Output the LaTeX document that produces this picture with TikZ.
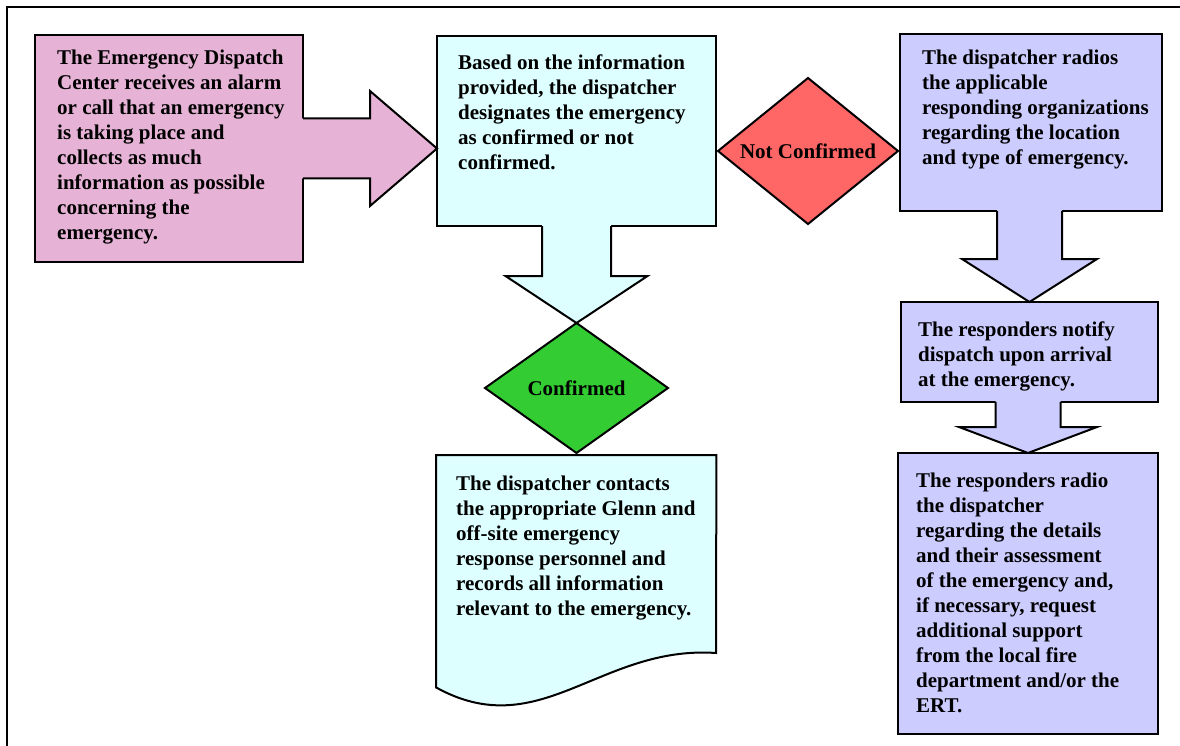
\documentclass[tikz,border=0pt]{standalone}
\usepackage{fontspec}
\setmainfont{Liberation Serif}
\usetikzlibrary{shapes.geometric,calc}

\definecolor{pinkfill}{RGB}{230,179,214}
\definecolor{cyanfill}{RGB}{221,255,255}
\definecolor{bluefill}{RGB}{204,204,255}
\definecolor{redfill}{RGB}{255,102,102}
\definecolor{greenfill}{RGB}{51,204,51}

\tikzset{
	outline/.style={line width=2pt, line join=miter},
	stepbox/.style={draw, outline, rectangle, anchor=north west, inner sep=0, outer sep=0},
	txt/.style={anchor=north west, inner sep=0, align=left, font=\fontsize{21}{25}\selectfont\bfseries},
	decision/.style={draw, outline, diamond, inner sep=0, outer sep=0, font=\fontsize{21}{25}\selectfont\bfseries}
}

% block arrow going down: #1 fill, #2 base anchor, #3 tip, #4 shaft half width, #5 head half width, #6 head length
\newcommand{\blockdown}[6]{
	\fill[#1] ($(#3|-#2)+(-#4,-3)$) -- ($(#3)+(-#4,-#6)$) -- ($(#3)+(-#5,-#6)$) -- (#3)
		-- ($(#3)+(#5,-#6)$) -- ($(#3)+(#4,-#6)$) -- ($(#3|-#2)+(#4,-3)$) -- cycle;
	\draw[outline] ($(#3|-#2)+(-#4,0)$) -- ($(#3)+(-#4,-#6)$) -- ($(#3)+(-#5,-#6)$) -- (#3)
		-- ($(#3)+(#5,-#6)$) -- ($(#3)+(#4,-#6)$) -- ($(#3|-#2)+(#4,0)$);
}

\begin{document}
\begin{tikzpicture}[x=1pt, y=-1pt]
	\useasboundingbox (0,0) rectangle (1180,746);
	\draw[line width=2pt] (7,746) -- (7,7) -- (1180,7);

	% boxes
	\node[stepbox, fill=pinkfill, minimum width=268, minimum height=227] (alarm) at (35,35) {};
	\node[stepbox, fill=cyanfill, minimum width=279, minimum height=190] (designate) at (437,36) {};
	\node[stepbox, fill=bluefill, minimum width=262, minimum height=177] (radios) at (900,34) {};
	\node[stepbox, fill=bluefill, minimum width=257, minimum height=100] (notify) at (901,302) {};
	\node[stepbox, fill=bluefill, minimum width=260, minimum height=281] (support) at (898,453) {};
	\node[anchor=north west, inner sep=0, minimum width=280, minimum height=232] (contact) at (436,455) {};
	\filldraw[outline, fill=cyanfill] (contact.north west) -- (contact.north east) -- ($(contact.north west)+(280,198)$)
		.. controls ($(contact.north west)+(164,190)$) and ($(contact.north west)+(104,290)$) .. (contact.south west) -- cycle;

	% decisions
	\node[decision, fill=redfill, aspect=1.23, minimum width=180, minimum height=146] (notconf) at (808,151) {Not Confirmed};
	\node[decision, fill=greenfill, aspect=1.41, minimum width=183, minimum height=130] (conf) at (576.5,388) {Confirmed};

	% block arrows
	\coordinate (alarm-tip) at (alarm.east -| designate.west);
	\fill[pinkfill] ($(alarm.east)+(-3,-30)$) -- ($(alarm-tip)+(-67,-30)$) -- ($(alarm-tip)+(-67,-57.5)$) -- (alarm-tip)
		-- ($(alarm-tip)+(-67,57.5)$) -- ($(alarm-tip)+(-67,30)$) -- ($(alarm.east)+(-3,30)$) -- cycle;
	\draw[outline] ($(alarm.east)+(0,-30)$) -- ($(alarm-tip)+(-67,-30)$) -- ($(alarm-tip)+(-67,-57.5)$) -- (alarm-tip)
		-- ($(alarm-tip)+(-67,57.5)$) -- ($(alarm-tip)+(-67,30)$) -- ($(alarm.east)+(0,30)$);
	\blockdown{cyanfill}{designate.south}{conf.north}{34.5}{71}{47}
	\blockdown{bluefill}{radios.south}{notify.north}{32.5}{67.5}{43}
	\blockdown{bluefill}{notify.south}{support.north}{32.5}{69}{26}

	% texts
	\node[txt] (alarm-t) at ([shift={(22,15)}]alarm.north west) {The Emergency Dispatch\\Center receives an alarm\\or call that an emergency\\is taking place and\\collects as much\\information as possible\\concerning the\\emergency.};
	\node[txt] (designate-t) at ([shift={(21,19)}]designate.north west) {Based on the information\\provided, the dispatcher\\designates the emergency\\as confirmed or not\\confirmed.};
	\node[txt] (radios-t) at ([shift={(22,16)}]radios.north west) {The dispatcher radios\\the applicable\\responding organizations\\regarding the location\\and type of emergency.};
	\node[txt] (notify-t) at ([shift={(17,20)}]notify.north west) {The responders notify\\dispatch upon arrival\\at the emergency.};
	\node[txt] (support-t) at ([shift={(18,20)}]support.north west) {The responders radio\\the dispatcher\\regarding the details\\and their assessment\\of the emergency and,\\if necessary, request\\additional support\\from the local fire\\department and/or the\\ERT.};
	\node[txt] (contact-t) at ([shift={(20,21)}]contact.north west) {The dispatcher contacts\\the appropriate Glenn and\\off-site emergency\\response personnel and\\records all information\\relevant to the emergency.};
\end{tikzpicture}
\end{document}
